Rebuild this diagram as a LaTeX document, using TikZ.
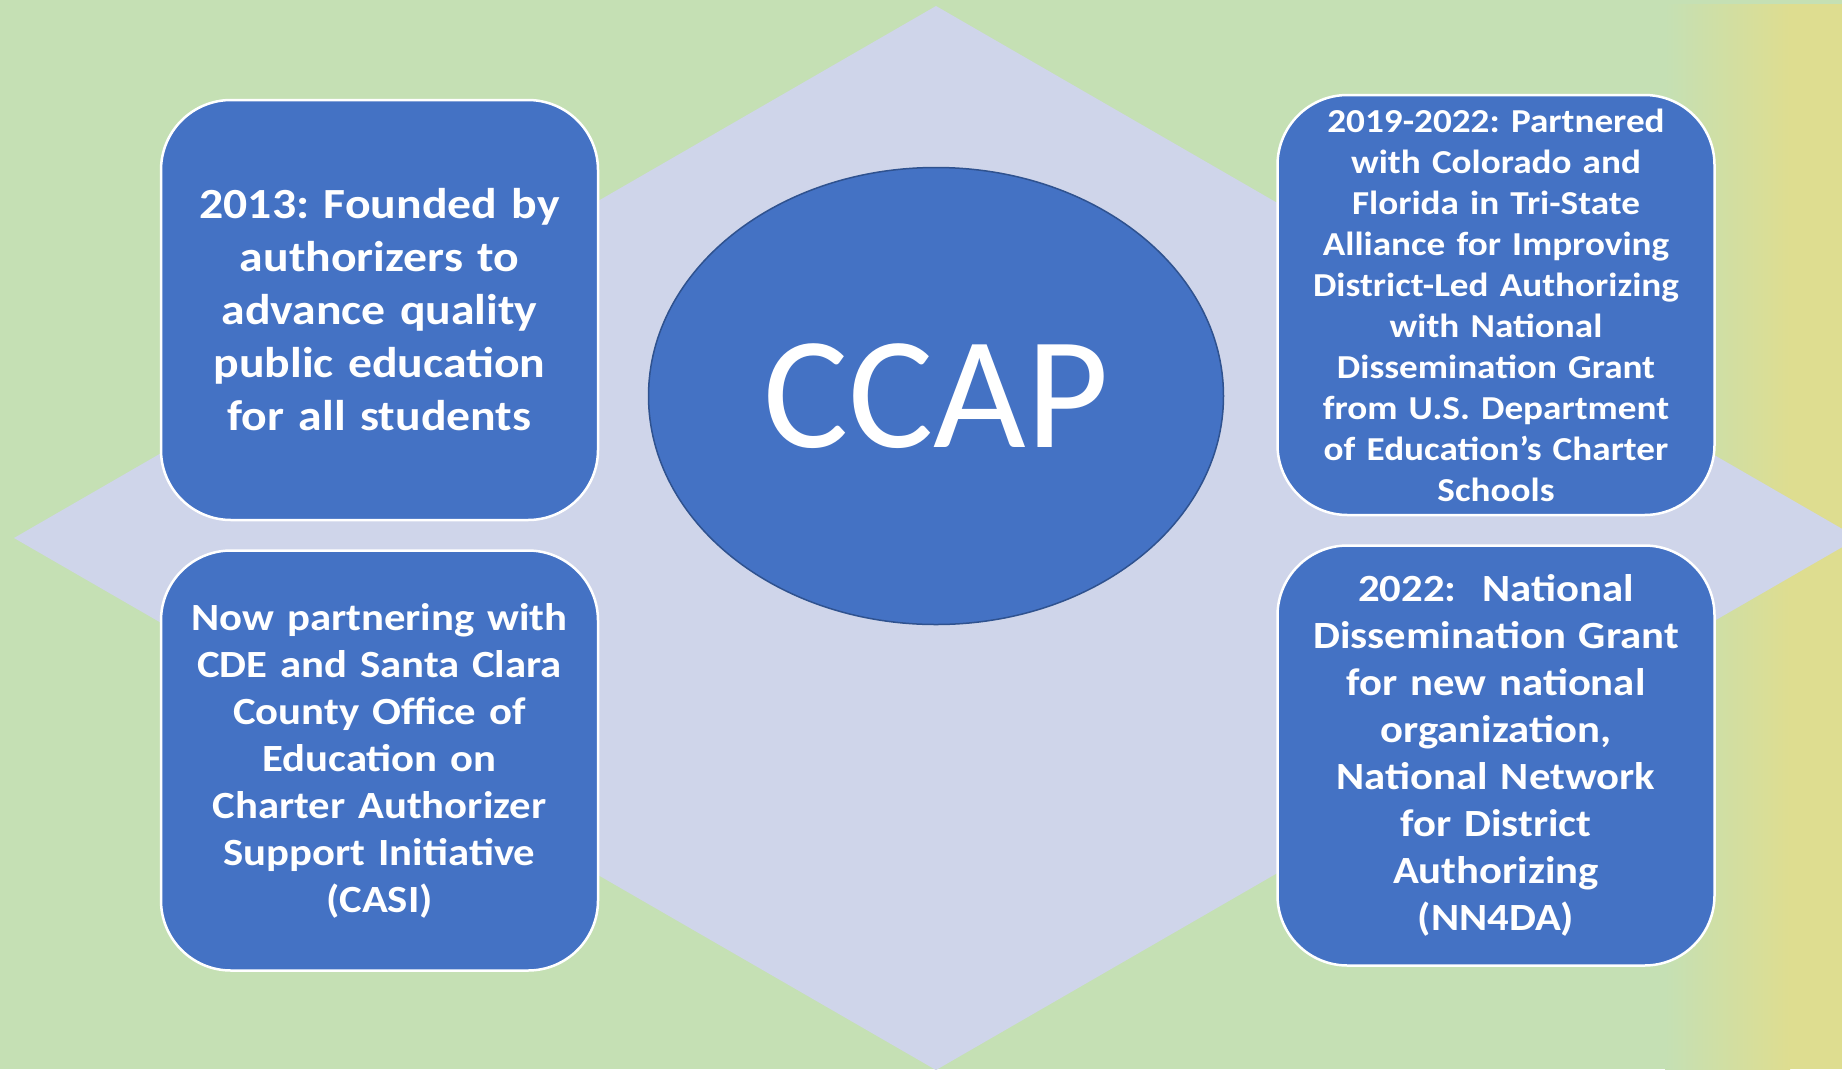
\documentclass[tikz,border=0pt]{standalone}
\usepackage{fontspec}
\setmainfont{Carlito}
\newfontfamily\cardfont{Carlito}[FakeStretch=1.11]
\usepackage{xcolor}
\usepackage{tikz}
\usetikzlibrary{positioning,shapes.geometric}
\definecolor{leaf}{HTML}{C5E0B4}
\definecolor{straw}{HTML}{DEDD90}
\definecolor{lav}{HTML}{CFD5EA}
\definecolor{accent}{HTML}{4472C4}
\definecolor{rim}{HTML}{2F528F}
\frenchspacing
\tikzset{
  card/.style={rectangle,draw=white,line width=2.5pt,fill=accent,rounded corners=70pt,
    minimum width=437pt,minimum height=420pt,align=center,text=white,text width=425pt},
  big/.style={font=\cardfont\bfseries\fontsize{43}{53}\selectfont},
  mid/.style={font=\cardfont\bfseries\fontsize{38.5}{47}\selectfont},
  small/.style={font=\cardfont\bfseries\fontsize{33.5}{41}\selectfont},
  hub/.style={ellipse,draw=rim,line width=1.5pt,fill=accent,minimum width=575pt,
    minimum height=457pt,text=white,font=\fontsize{160}{170}\selectfont},
}

\begin{document}
\begin{tikzpicture}[x=1pt,y=-1pt]
  \useasboundingbox (0,0) rectangle (1842,1069);
  \clip (0,0) rectangle (1842,1069);
  % backdrop and the pale diamond behind everything
  \fill[leaf] (0,0) rectangle (1842,1069);
  \shade[left color=leaf,right color=straw] (1665,4) rectangle (1790,1069);
  \fill[straw] (1789,4) rectangle (1842,1069);
  \fill[lav] (936,6) -- (1858,538) -- (936,1070) -- (14,538) -- cycle;
  \node[hub] (ccap) at (936,396) {CCAP};
  \node[card,big] (tl) at (379.5,310) {2013: Founded by\\authorizers to\\advance quality\\public education\\for all students};
  \node[card,mid,below=28pt of tl] (bl) {Now partnering with\\CDE and Santa Clara\\County Office of\\Education on\\Charter Authorizer\\Support Initiative\\(CASI)};
  \node[card,small] (tr) at (1496,305) {2019-2022: Partnered\\with Colorado and\\Florida in Tri-State\\Alliance for Improving\\District-Led Authorizing\\with National\\Dissemination Grant\\from U.S. Department\\of Education’s Charter\\Schools};
  \node[card,mid,below=28pt of tr] (br) {2022:\ \ National\\Dissemination Grant\\for new national\\organization,\\National Network\\for District\\Authorizing\\(NN4DA)};
\end{tikzpicture}
\end{document}
